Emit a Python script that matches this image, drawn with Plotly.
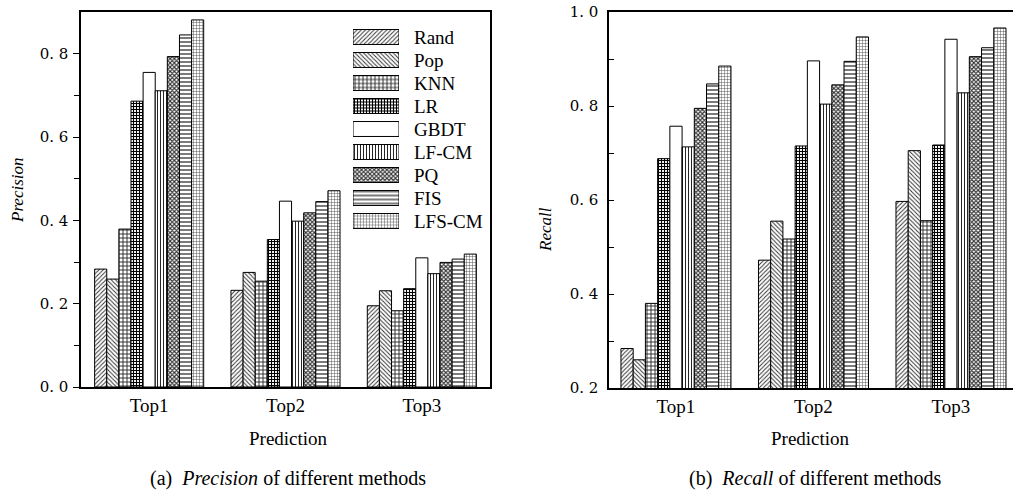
import plotly.graph_objects as go

# ---------------- data ----------------
methods = ["Rand", "Pop", "KNN", "LR", "GBDT", "LF-CM", "PQ", "FIS", "LFS-CM"]
categories = ["Top1", "Top2", "Top3"]

precision_top1 = [0.283, 0.259, 0.379, 0.686, 0.755, 0.711, 0.793, 0.845, 0.881]
precision_top2 = [0.232, 0.275, 0.254, 0.354, 0.446, 0.398, 0.418, 0.445, 0.471]
precision_top3 = [0.195, 0.231, 0.183, 0.236, 0.310, 0.272, 0.299, 0.307, 0.319]

recall_top1 = [0.284, 0.260, 0.380, 0.688, 0.757, 0.713, 0.795, 0.847, 0.885]
recall_top2 = [0.472, 0.555, 0.517, 0.715, 0.896, 0.804, 0.845, 0.895, 0.947]
recall_top3 = [0.597, 0.705, 0.556, 0.717, 0.942, 0.828, 0.905, 0.924, 0.966]

precision_ticks = [0.0, 0.2, 0.4, 0.6, 0.8]
precision_ticktext = ["0. 0", "0. 2", "0. 4", "0. 6", "0. 8"]
recall_ticks = [0.2, 0.4, 0.6, 0.8, 1.0]
recall_ticktext = ["0. 2", "0. 4", "0. 6", "0. 8", "1. 0"]

# ---------------- styles ----------------
pat_shape = ["/", "\\", "+", "+", "", "|", "x", "-", "+"]
pat_fg = ["#333333", "#333333", "#222222", "#000000", "#000000", "#222222", "#333333", "#222222", "#555555"]
pat_size = [3, 3, 4, 3, 6, 3, 3, 4, 3]
pat_sol = [0.33, 0.33, 0.4, 0.6, 0.2, 0.33, 0.6, 0.3, 0.3]

W, H = 1013, 493
def px(x):
    return x / W
def py(y):
    return (H - y) / H

SERIF = "Liberation Serif, Times New Roman, serif"
NUMF = "DejaVu Serif, serif"

fig = go.Figure()

def marker_for(i):
    return dict(
        color="white",
        line=dict(color="black", width=1),
        pattern=dict(shape=pat_shape[i], fgcolor=pat_fg[i], bgcolor="white",
                     size=pat_size[i], solidity=pat_sol[i]),
    )

for i, m in enumerate(methods):
    fig.add_trace(go.Bar(
        x=categories,
        y=[precision_top1[i], precision_top2[i], precision_top3[i]],
        name=m, marker=marker_for(i), xaxis="x", yaxis="y", showlegend=False,
    ))
for i, m in enumerate(methods):
    fig.add_trace(go.Bar(
        x=categories,
        y=[recall_top1[i], recall_top2[i], recall_top3[i]],
        name=m, marker=marker_for(i), xaxis="x2", yaxis="y2", showlegend=False,
    ))

# custom legend swatches (wide rectangles as in the reference)
fig.add_trace(go.Bar(
    y=methods, x=[1] * len(methods), orientation="h", width=0.65,
    xaxis="x3", yaxis="y3", showlegend=False, hoverinfo="skip",
    marker=dict(
        color="white",
        line=dict(color="black", width=1),
        pattern=dict(shape=pat_shape, fgcolor=pat_fg, bgcolor="white",
                     size=pat_size, solidity=pat_sol),
    ),
))

def ann(x, y, text, size=19, angle=0, xref="paper", yref="paper", xanchor="center"):
    return dict(x=x, y=y, xref=xref, yref=yref, text=text, showarrow=False,
                xanchor=xanchor, yanchor="middle", textangle=angle,
                font=dict(family=SERIF, size=size, color="black"))

annotations = [ann(px(412), m, m, yref="y3", xanchor="left") for m in methods]
annotations += [
    ann(px(18), py(190), "<i>Precision</i>", size=17, angle=-90),
    ann(px(546), py(230), "<i>Recall</i>", size=17, angle=-90),
    ann(px(288), py(438), "Prediction"),
    ann(px(810), py(438), "Prediction"),
    ann(px(288), py(478), "(a)\u2002<i>Precision</i> of different methods", size=20),
    ann(px(815), py(478), "(b)\u2002<i>Recall</i> of different methods", size=20),
]

common_x = dict(showline=True, linecolor="black", linewidth=1.5, ticks="",
                showgrid=False, zeroline=False, mirror=True, automargin=False,
                tickfont=dict(family=SERIF, size=19, color="black"),
                ticklabelstandoff=0)

fig.update_layout(
    template="none",
    width=W, height=H,
    margin=dict(l=0, r=0, t=0, b=0, pad=0, autoexpand=False),
    paper_bgcolor="white", plot_bgcolor="white",
    barmode="group", bargap=0.2, bargroupgap=0,
    showlegend=False,
    xaxis=dict(domain=[px(81), px(490)], range=[-0.5, 2.5], anchor="y", **common_x),
    yaxis=dict(domain=[py(387), py(12)], range=[0, 0.9], anchor="x", automargin=False,
               tickvals=precision_ticks, ticktext=precision_ticktext,
               ticks="outside", ticklen=6, tickwidth=1.2, tickcolor="black",
               minor=dict(tickvals=[0.1, 0.3, 0.5, 0.7], ticks="outside", ticklen=5,
                          tickwidth=1.2, tickcolor="black", showgrid=False),
               showline=True, linecolor="black", linewidth=1.5, mirror=True,
               showgrid=False, zeroline=False, ticklabelstandoff=2,
               tickfont=dict(family=NUMF, size=15, color="black")),
    xaxis2=dict(domain=[px(609), 1.0], range=[-0.487, 2.451], anchor="y2", **common_x),
    yaxis2=dict(domain=[py(388), py(12)], range=[0.2, 1.0], anchor="x2", automargin=False,
                tickvals=recall_ticks, ticktext=recall_ticktext,
                ticks="inside", ticklen=5, tickwidth=1.2, tickcolor="black",
                minor=dict(tickvals=[0.3, 0.5, 0.7, 0.9], ticks="inside", ticklen=5,
                           tickwidth=1.2, tickcolor="black", showgrid=False),
                showline=True, linecolor="black", linewidth=1.5, mirror=False,
                showgrid=False, zeroline=False, ticklabelstandoff=6,
                tickfont=dict(family=NUMF, size=15, color="black")),
    xaxis3=dict(domain=[px(353), px(399)], range=[0, 1], anchor="y3", visible=False,
                fixedrange=True, automargin=False),
    yaxis3=dict(domain=[py(232.5), py(25.5)], range=[8.5, -0.5], anchor="x3",
                visible=False, fixedrange=True, type="category", automargin=False),
    annotations=annotations,
)

fig.write_html("out.html")
